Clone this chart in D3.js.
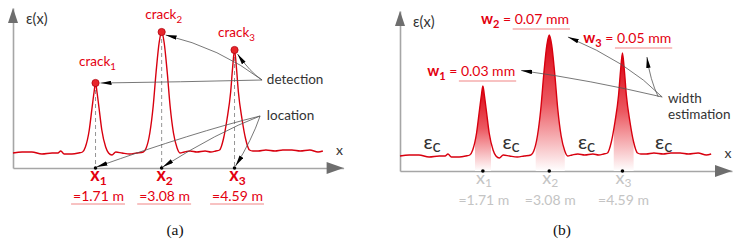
<!DOCTYPE html>
<html>
<head>
<meta charset="utf-8">
<script src="https://cdn.jsdelivr.net/npm/d3@7"></script>
<style>
  body { margin: 0; background: #fff; }
  svg { display: block; font-family: Lato, "Noto Sans", sans-serif; }
</style>
</head>
<body>
<svg id="chart" width="739" height="242"></svg>
<script>
// strain profile along the fibre (distance in m, strain in arbitrary units)
const distance = [0, 0.19, 0.39, 0.60, 0.81, 0.93, 0.99, 1.06, 1.22, 1.36, 1.44, 1.50, 1.58, 1.64, 1.68,
  1.71, 1.74, 1.78, 1.84, 1.92, 1.98, 2.05, 2.13, 2.26, 2.42, 2.56, 2.70, 2.76, 2.835, 2.905, 2.965,
  3.03, 3.08, 3.13, 3.195, 3.255, 3.325, 3.40, 3.46, 3.55, 3.67, 3.81, 3.98, 4.10, 4.20, 4.28, 4.36,
  4.435, 4.51, 4.55, 4.59, 4.63, 4.67, 4.745, 4.82, 4.90, 4.97, 5.08, 5.24, 5.43, 5.59, 5.78, 5.95,
  6.15, 6.32, 6.42]
const strain = [15, 16, 16, 14, 15, 15, 17, 14, 14, 15, 16, 21, 38, 61, 76,
  85, 76, 61, 38, 21, 15, 13, 16, 15, 14, 15, 16, 20, 35, 62, 96,
  126, 136, 126, 96, 62, 35, 20, 15, 16, 17, 16, 17, 16, 17, 18, 29,
  49, 76, 100, 118, 100, 76, 49, 29, 18, 17, 17, 18, 17, 18, 18, 17,
  18, 16, 17]

const crackPos = [1.71, 3.08, 4.59]
const crackWidth = ['0.03', '0.07', '0.05']
const fillFrom = [1.55, 2.80, 4.41]
const fillTo = [1.88, 3.40, 4.82]
const epsCPos = [0.66, 2.29, 3.85, 5.44]

const red = '#e3000f'
const lineRed = '#d8000f'
const ink = '#333'
const grayText = '#c4c4c4'

const svg = d3.select('#chart')
const defs = svg.append('defs')

defs.append('marker')
  .attr('id', 'ah')
  .attr('viewBox', '0 0 10 4')
  .attr('refX', 10).attr('refY', 2)
  .attr('markerWidth', 11).attr('markerHeight', 4.6)
  .attr('markerUnits', 'userSpaceOnUse')
  .attr('orient', 'auto')
  .append('path').attr('d', 'M0,0L10,2L0,4Z').attr('fill', '#000')

const signal = distance.map((m, i) => ({ m, e: strain[i] }))
const peakOf = p => signal.find(d => d.m === p).e

// scales of the two panels
const xL = d3.scaleLinear().domain([0, 6.85]).range([13, 343.6])
const yL = d3.scaleLinear().domain([0, 160]).range([168, 8])
const xR = d3.scaleLinear().domain([0, 6.85]).range([400, 732])
const yR = d3.scaleLinear().domain([0, 160]).range([171, 11])

function drawAxes(g, x, y) {
  g.append('g').attr('transform', `translate(0,${y(0)})`)
    .call(d3.axisBottom(x).tickValues([]).tickSizeOuter(0))
  g.append('g').attr('transform', `translate(${x(0)},0)`)
    .call(d3.axisLeft(y).tickValues([]).tickSizeOuter(0))
  g.selectAll('.domain').attr('stroke', '#a6a6a6').attr('stroke-width', 1.6)

  const [x0, x1] = x.range()
  const [y0, y1] = y.range()
  g.append('path').attr('d', `M${x1},${y0}L${x1 - 17},${y0 - 6}L${x1 - 17},${y0 + 6}Z`).attr('fill', '#6e6e6e')
  g.append('path').attr('d', `M${x0},${y1}L${x0 - 5},${y1 + 15}L${x0 + 5},${y1 + 15}Z`).attr('fill', '#6e6e6e')

  g.append('text').attr('x', x0 + 13).attr('y', y1 + 16).attr('font-size', 14.5).attr('fill', ink).text('ε(x)')
  g.append('text').attr('x', x1 - 4).attr('y', y0 - 13).attr('font-size', 14).attr('fill', ink)
    .attr('text-anchor', 'middle').text('x')
}

function subLabel(g, x, y, main, sub, o) {
  const t = g.append('text')
    .attr('x', x).attr('y', y)
    .attr('fill', o.fill).attr('font-size', o.size)
    .attr('font-weight', o.bold ? 700 : 400)
    .attr('text-anchor', o.anchor || 'start')
  t.append('tspan').text(main)
  t.append('tspan').attr('dy', o.dy != null ? o.dy : o.size * 0.3)
    .attr('font-size', o.subSize || o.size * 0.72).text(sub)
  return t
}

function underline(g, node, y, color) {
  const b = node.getBBox()
  g.append('line')
    .attr('x1', b.x - 2).attr('x2', b.x + b.width + 1)
    .attr('y1', y).attr('y2', y)
    .attr('stroke', color).attr('stroke-width', 1)
  return { x1: b.x - 2, x2: b.x + b.width + 1, y, mid: b.y + b.height / 2 }
}

function arrow(g, s, c, e) {
  g.append('path')
    .attr('d', `M${s[0]},${s[1]}Q${c[0]},${c[1]} ${e[0]},${e[1]}`)
    .attr('fill', 'none').attr('stroke', '#555').attr('stroke-width', 0.8)
    .attr('marker-end', 'url(#ah)')
}

// ---------- panel (a) ----------
const left = svg.append('g')
drawAxes(left, xL, yL)
const lineL = d3.line().x(d => xL(d.m)).y(d => yL(d.e)).curve(d3.curveMonotoneX)

left.selectAll('.guide')
  .data(crackPos)
  .join('line')
  .attr('x1', d => xL(d)).attr('x2', d => xL(d))
  .attr('y1', d => yL(peakOf(d))).attr('y2', yL(0))
  .attr('stroke', '#7a7a7a').attr('stroke-width', 0.8).attr('stroke-dasharray', '4,3')

left.append('path').datum(signal)
  .attr('d', lineL).attr('fill', 'none').attr('stroke', lineRed).attr('stroke-width', 1.4)

left.selectAll('.crack')
  .data(crackPos)
  .join('circle')
  .attr('cx', d => xL(d)).attr('cy', d => yL(peakOf(d))).attr('r', 3.6)
  .attr('fill', '#e8262b').attr('stroke', '#b3000c').attr('stroke-width', 0.8)

left.selectAll('.dot')
  .data(crackPos)
  .join('circle')
  .attr('cx', d => xL(d)).attr('cy', yL(0)).attr('r', 1.8).attr('fill', '#000')

crackPos.forEach((p, i) => {
  const off = i === 0 ? 17 : 13
  subLabel(left, xL(p) + 2, yL(peakOf(p)) - off, 'crack', i + 1, { fill: red, size: 13.5, anchor: 'middle' })
  subLabel(left, xL(p) + 3, yL(0) + 13, 'x', i + 1, { fill: red, size: 18, bold: true, anchor: 'middle', dy: 3.5, subSize: 12 })
  const v = left.append('text')
    .attr('x', xL(p) + 3).attr('y', yL(0) + 33)
    .attr('fill', red).attr('font-size', 14).attr('text-anchor', 'middle')
    .text('=' + p.toFixed(2) + ' m')
  underline(left, v.node(), yL(0) + 36, '#f08585')
})

left.append('text').attr('x', xL(5.26)).attr('y', yL(84)).attr('font-size', 13.5).attr('fill', ink).text('detection')
left.append('text').attr('x', xL(5.26)).attr('y', yL(48)).attr('font-size', 13.5).attr('fill', ink).text('location')

const detStart = [xL(5.16), yL(88)]
arrow(left, detStart, [xL(3.46), yL(86)], [xL(crackPos[0]) + 5, yL(peakOf(crackPos[0]))])
arrow(left, detStart, [xL(4.29), yL(120)], [xL(crackPos[1]) + 4, yL(peakOf(crackPos[1])) + 3])
arrow(left, detStart, [xL(4.91), yL(96)], [xL(crackPos[2]) + 3, yL(peakOf(crackPos[2])) + 4])

const locStart = [xL(5.12), yL(52)]
arrow(left, locStart, [xL(3.77), yL(36)], [xL(crackPos[0]) + 1, yL(0) - 1])
arrow(left, locStart, [xL(4.25), yL(36)], [xL(crackPos[1]) + 1, yL(0) - 1])
arrow(left, locStart, [xL(4.95), yL(28)], [xL(crackPos[2]) + 1, yL(0) - 2])

left.append('text').attr('x', 175).attr('y', 235)
  .attr('font-family', '"Liberation Serif", serif').attr('font-size', 15.5).attr('fill', '#111')
  .attr('text-anchor', 'middle').text('(a)')

// ---------- panel (b) ----------
const right = svg.append('g')
drawAxes(right, xR, yR)
const lineR = d3.line().x(d => xR(d.m)).y(d => yR(d.e)).curve(d3.curveMonotoneX)
const areaR = d3.area().x(d => xR(d.m)).y0(yR(0)).y1(d => yR(d.e)).curve(d3.curveMonotoneX)

crackPos.forEach((p, i) => {
  const grad = defs.append('linearGradient')
    .attr('id', 'fill' + i).attr('gradientUnits', 'userSpaceOnUse')
    .attr('x1', 0).attr('x2', 0).attr('y1', yR(peakOf(p))).attr('y2', yR(0))
  grad.append('stop').attr('offset', 0).attr('stop-color', '#d9000f')
  grad.append('stop').attr('offset', 0.5).attr('stop-color', '#ec5a62')
  grad.append('stop').attr('offset', 1).attr('stop-color', '#ffffff')

  defs.append('clipPath').attr('id', 'clip' + i)
    .append('rect')
    .attr('x', xR(fillFrom[i])).attr('width', xR(fillTo[i]) - xR(fillFrom[i]))
    .attr('y', 0).attr('height', yR(0))

  right.append('path').datum(signal)
    .attr('d', areaR).attr('fill', `url(#fill${i})`).attr('clip-path', `url(#clip${i})`)
})

right.append('path').datum(signal)
  .attr('d', lineR).attr('fill', 'none').attr('stroke', lineRed).attr('stroke-width', 1.4)

right.selectAll('.dot')
  .data(crackPos)
  .join('circle')
  .attr('cx', d => xR(d)).attr('cy', yR(0)).attr('r', 1.8).attr('fill', '#000')

crackPos.forEach((p, i) => {
  subLabel(right, xR(p) + 1, yR(0) + 13, 'x', i + 1, { fill: grayText, size: 18, anchor: 'middle', dy: 3, subSize: 12 })
  right.append('text')
    .attr('x', xR(p) + 1).attr('y', yR(0) + 33.5)
    .attr('fill', grayText).attr('font-size', 14).attr('text-anchor', 'middle')
    .text('=' + p.toFixed(2) + ' m')
})

epsCPos.forEach(p => {
  subLabel(right, xR(p), yR(0) - 22, 'ε', 'c', { fill: ink, size: 20, anchor: 'middle', dy: 3, subSize: 17 })
})

// crack width labels
const wAt = [[0.56, 95], [1.67, 147], [3.78, 128]]
const uls = crackPos.map((p, i) => {
  const t = right.append('text')
    .attr('x', xR(wAt[i][0])).attr('y', yR(wAt[i][1]))
    .attr('fill', red).attr('font-size', 14)
  t.append('tspan').attr('font-weight', 700).attr('font-size', 15).text('w')
  t.append('tspan').attr('font-weight', 700).attr('font-size', 11).attr('dy', 4).text(i + 1)
  t.append('tspan').attr('dy', -4).text(' = ')
  const v = t.append('tspan').text(crackWidth[i] + ' mm')
  return underline(right, v.node(), yR(wAt[i][1]) + 5, '#f08585')
})

right.append('text').attr('x', xR(5.53)).attr('y', yR(68)).attr('font-size', 13.5).attr('fill', ink).text('width')
right.append('text').attr('x', xR(5.53)).attr('y', yR(52)).attr('font-size', 13.5).attr('fill', ink).text('estimation')

const wStart = [xR(5.41), yR(74)]
arrow(right, wStart, [xR(3.92), yR(91)], [uls[0].x2 + 5, uls[0].mid])
arrow(right, wStart, [xR(4.70), yR(109)], [uls[1].x2 - 2, uls[1].y + 8])
arrow(right, [xR(5.33), yR(74)], [xR(5.16), yR(91)], [uls[2].x1 + 32, uls[2].y + 9])

right.append('text').attr('x', 562).attr('y', 235)
  .attr('font-family', '"Liberation Serif", serif').attr('font-size', 15.5).attr('fill', '#111')
  .attr('text-anchor', 'middle').text('(b)')
</script>
</body>
</html>
